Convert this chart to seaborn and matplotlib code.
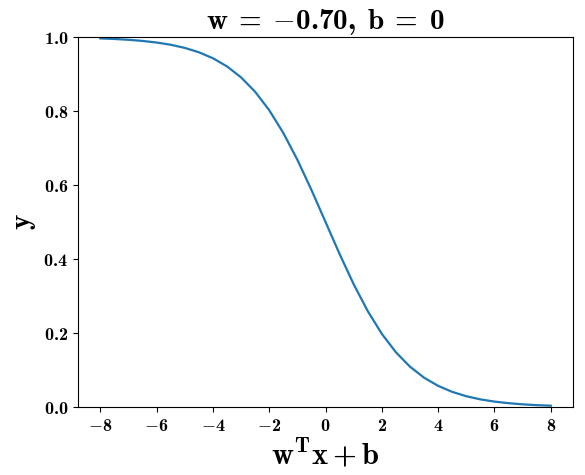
import pandas as pd
import seaborn as sns
import matplotlib.pyplot as plt
from matplotlib.ticker import FuncFormatter

plt.rcParams['mathtext.fontset'] = 'custom'
plt.rcParams['mathtext.rm'] = 'cmb10'
plt.rcParams['mathtext.bf'] = 'cmb10'
plt.rcParams['mathtext.it'] = 'cmb10'
plt.rcParams['mathtext.fallback'] = 'cm'

# values
x_vals = [-8, -7.5, -7, -6.5, -6, -5.5, -5, -4.5, -4, -3.5, -3, -2.5, -2, -1.5, -1, -0.5,
          0, 0.5, 1, 1.5, 2, 2.5, 3, 3.5, 4, 4.5, 5, 5.5, 6, 6.5, 7, 7.5, 8]
y_vals = [0.9963, 0.9948, 0.9926, 0.9895, 0.9852, 0.9792, 0.9707, 0.9589, 0.9427, 0.9206,
          0.8909, 0.8520, 0.8022, 0.7408, 0.6682, 0.5866, 0.5000, 0.4134, 0.3318, 0.2592,
          0.1978, 0.1480, 0.1091, 0.0794, 0.0573, 0.0411, 0.0293, 0.0208, 0.0148, 0.0105,
          0.0074, 0.0052, 0.0037]
x_ticks = [-8, -6, -4, -2, 0, 2, 4, 6, 8]
y_ticks = [0.0, 0.2, 0.4, 0.6, 0.8, 1.0]

df = pd.DataFrame({'x': x_vals, 'y': y_vals})

fig = plt.figure(figsize=(5.85, 4.75), dpi=100)
ax = fig.add_axes([0.133, 0.143, 0.847, 0.779])
sns.lineplot(data=df, x='x', y='y', ax=ax, color='#1f77b4', linewidth=1.6)

ax.set_ylim(0, 1)
ax.set_xticks(x_ticks)
ax.set_yticks(y_ticks)
ax.xaxis.set_major_formatter(FuncFormatter(lambda v, p: r'$\mathbf{%d}$' % v))
ax.yaxis.set_major_formatter(FuncFormatter(lambda v, p: r'$\mathbf{%.1f}$' % v))
ax.tick_params(labelsize=13)

ax.set_title(r'$\mathbf{w}\;=\;{-}\mathbf{0.70},\;\mathbf{b}\;=\;\mathbf{0}$', fontsize=21)
ax.set_xlabel(r'$\mathbf{w^Tx} + \mathbf{b}$', fontsize=22, labelpad=1)
ax.set_ylabel(r'$\mathbf{y}$', fontsize=21)

fig.savefig('out.png', dpi=100)
